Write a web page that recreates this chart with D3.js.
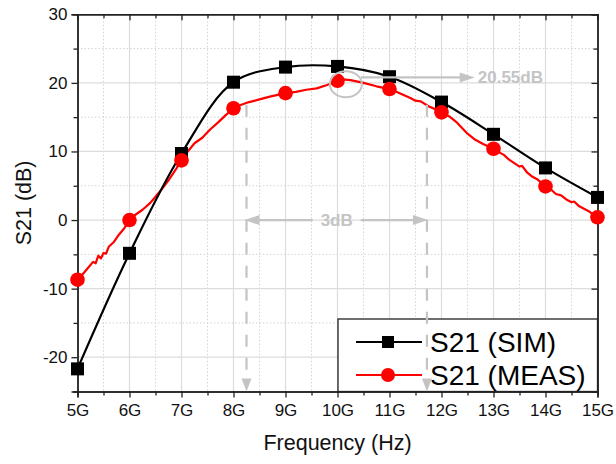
<!DOCTYPE html>
<html><head><meta charset="utf-8">
<script src="https://cdn.jsdelivr.net/npm/d3@7"></script>
<style>
html,body{margin:0;padding:0;background:#fff;}
svg{display:block;font-family:"Liberation Sans",Arial,sans-serif;}
</style></head>
<body><svg id="chart" width="616" height="464"></svg>
<script>
// ---- data ----
const simFreq = [5, 6, 7, 8, 9, 10, 11, 12, 13, 14, 15];           // GHz
const simS21  = [-21.7, -4.85, 9.7, 20.1, 22.3, 22.4, 20.9, 17.2, 12.5, 7.6, 3.3];
const measMarkFreq = [5, 6, 7, 8, 9, 10, 11, 12, 13, 14, 15];
const measMarkS21  = [-8.7, 0.0, 8.7, 16.3, 18.5, 20.3, 19.1, 15.7, 10.4, 4.9, 0.4];
const measFreq = [5.0,5.02,5.05,5.1,5.2,5.3,5.35,5.4,5.45,5.5,5.55,5.6,5.7,5.8,5.9,6.0,6.1,6.25,6.4,6.5,6.6,6.75,6.9,7.0,7.1,7.25,7.4,7.55,7.7,7.85,8.0,8.15,8.3,8.5,8.7,9.0,9.2,9.4,9.6,9.8,9.9,10.0,10.1,10.25,10.5,10.75,11.0,11.1,11.25,11.4,11.5,11.6,11.75,11.9,12.0,12.15,12.3,12.5,12.65,12.8,13.0,13.1,13.2,13.3,13.4,13.5,13.55,13.65,13.75,13.85,14.0,14.1,14.2,14.3,14.4,14.5,14.55,14.65,14.75,14.85,14.95,15.0];
const measS21  = [-8.8,-9.6,-8.2,-7.9,-7.0,-6.1,-6.3,-5.2,-5.6,-4.8,-4.9,-3.9,-3.2,-2.1,-1.2,0.0,0.7,1.5,2.5,3.4,4.3,5.8,7.5,8.7,9.8,11.2,12.0,13.2,14.2,15.3,16.3,16.8,17.2,17.6,18.0,18.5,18.7,19.0,19.2,19.7,20.0,20.4,20.5,20.4,20.0,19.5,19.1,18.8,18.3,17.8,17.4,17.3,16.6,16.1,15.7,15.1,14.2,12.6,11.7,11.1,10.4,9.9,9.5,8.8,8.3,7.8,7.9,6.9,6.3,5.9,4.9,4.5,3.8,3.6,3.0,2.6,2.7,2.0,1.6,1.2,0.6,0.4];
const xTicks = [5,6,7,8,9,10,11,12,13,14,15];
const xTickLabels = ["5G","6G","7G","8G","9G","10G","11G","12G","13G","14G","15G"];
const yTicks = [-20,-10,0,10,20,30];
const seriesNames = ["S21 (SIM)","S21 (MEAS)"];
// annotations (GHz, dB)
const bwLow = 8.25, bwHigh = 11.72, bwTop = 16.8, bwArrowDb = 0, bwLabel = "3dB";
const peakF = 10.16, peakDb = 19.8, peakArrowDb = 20.8, peakArrowEnd = 12.64, peakLabel = "20.55dB";

// ---- layout ----
const svg = d3.select("#chart");
const x = d3.scaleLinear().domain([5,15]).range([77.5,597.5]);
const y = d3.scaleLinear().domain([-25,30]).range([391.5,14.3]);
const [x0,x1] = x.range(), [yb,yt] = y.range();
const grey = "#c4c4c4";

// grid
const grid = svg.append("g");
d3.range(5.5,15,1).forEach(f=>grid.append("line").attr("x1",x(f)).attr("x2",x(f)).attr("y1",yt).attr("y2",yb)
  .attr("stroke","#d4d4d4").attr("stroke-width",1).attr("stroke-dasharray","1.5,2"));
d3.range(-25,30,10).forEach(v=>grid.append("line").attr("x1",x0).attr("x2",x1).attr("y1",y(v)).attr("y2",y(v))
  .attr("stroke","#d4d4d4").attr("stroke-width",1).attr("stroke-dasharray","1.5,2"));
xTicks.slice(1,-1).forEach(f=>grid.append("line").attr("x1",x(f)).attr("x2",x(f)).attr("y1",yt).attr("y2",yb)
  .attr("stroke","#dcdcdc").attr("stroke-width",1.2));
yTicks.slice(0,-1).forEach(v=>grid.append("line").attr("x1",x0).attr("x2",x1).attr("y1",y(v)).attr("y2",y(v))
  .attr("stroke","#dcdcdc").attr("stroke-width",1.2));

// axes
const fmtX = d => xTickLabels[xTicks.indexOf(d)];
const axB = svg.append("g").attr("transform",`translate(0,${yb})`)
  .call(d3.axisBottom(x).tickValues(xTicks).tickFormat(fmtX).tickSize(6).tickPadding(6));
const axBm = svg.append("g").attr("transform",`translate(0,${yb})`)
  .call(d3.axisBottom(x).tickValues(d3.range(5.5,15,1)).tickFormat("").tickSize(4));
const axT = svg.append("g").attr("transform",`translate(0,${yt})`)
  .call(d3.axisBottom(x).tickValues(xTicks).tickFormat("").tickSize(6));
const axTm = svg.append("g").attr("transform",`translate(0,${yt})`)
  .call(d3.axisBottom(x).tickValues(d3.range(5.5,15,1)).tickFormat("").tickSize(4));
const axL = svg.append("g").attr("transform",`translate(${x0},0)`)
  .call(d3.axisLeft(y).tickValues(yTicks).tickSize(6).tickPadding(4));
const axLm = svg.append("g").attr("transform",`translate(${x0},0)`)
  .call(d3.axisLeft(y).tickValues(d3.range(-25,30,10)).tickFormat("").tickSize(4));
const axR = svg.append("g").attr("transform",`translate(${x1},0)`)
  .call(d3.axisLeft(y).tickValues(yTicks).tickFormat("").tickSize(6));
const axRm = svg.append("g").attr("transform",`translate(${x1},0)`)
  .call(d3.axisLeft(y).tickValues(d3.range(-25,30,10)).tickFormat("").tickSize(4));
[axB,axBm,axT,axTm,axL,axLm,axR,axRm].forEach(g=>{
  g.select(".domain").attr("stroke","#222").attr("stroke-width",1.4);
  g.selectAll(".tick line").attr("stroke","#222").attr("stroke-width",1.3);
  g.selectAll(".tick text").attr("fill","#111").attr("font-size",17)
   .attr("font-family","'Liberation Sans',Arial,sans-serif");
});
axL.selectAll(".tick text").text(d=>d<0?"-"+Math.abs(d):d);

// axis titles
svg.append("text").attr("x",(x0+x1)/2).attr("y",450).attr("text-anchor","middle")
  .attr("font-size",21.5).attr("fill","#111").text("Frequency (Hz)");
svg.append("text").attr("transform",`translate(31,${(yt+yb)/2}) rotate(-90)`).attr("text-anchor","middle")
  .attr("font-size",21.5).attr("fill","#111").text("S21 (dB)");

// clip
svg.append("clipPath").attr("id","clip").append("rect").attr("x",x0).attr("y",yt).attr("width",x1-x0).attr("height",yb-yt);
const plot = svg.append("g").attr("clip-path","url(#clip)");

// series
const simData = simFreq.map((f,i)=>[f,simS21[i]]);
const measData = measFreq.map((f,i)=>[f,measS21[i]]);
const measMarks = measMarkFreq.map((f,i)=>[f,measMarkS21[i]]);
plot.append("path").datum(measData)
  .attr("d",d3.line().x(d=>x(d[0])).y(d=>y(d[1])).curve(d3.curveLinear))
  .attr("fill","none").attr("stroke","#ff0000").attr("stroke-width",2.2).attr("stroke-linejoin","round");
plot.append("path").datum(simData)
  .attr("d",d3.line().x(d=>x(d[0])).y(d=>y(d[1])).curve(d3.curveCatmullRom.alpha(0.5)))
  .attr("fill","none").attr("stroke","#000").attr("stroke-width",2.2);
const ms = 13;
svg.append("g").selectAll("rect").data(simData).join("rect")
  .attr("x",d=>x(d[0])-ms/2).attr("y",d=>y(d[1])-ms/2).attr("width",ms).attr("height",ms).attr("fill","#000");
svg.append("g").selectAll("circle").data(measMarks).join("circle")
  .attr("cx",d=>x(d[0])).attr("cy",d=>y(d[1])).attr("r",7.3).attr("fill","#ff0000");

// legend
const lg = svg.append("g");
lg.append("rect").attr("x",338).attr("y",319).attr("width",x1-338).attr("height",yb-319)
  .attr("fill","#fff").attr("stroke","#222").attr("stroke-width",1.3);
const rows = [{name:seriesNames[0],c:"#000",sym:"sq",cy:342},{name:seriesNames[1],c:"#ff0000",sym:"ci",cy:375}];
rows.forEach(r=>{
  lg.append("line").attr("x1",356).attr("x2",422).attr("y1",r.cy).attr("y2",r.cy).attr("stroke",r.c).attr("stroke-width",2.2);
  if(r.sym==="sq") lg.append("rect").attr("x",388-6).attr("y",r.cy-6).attr("width",12).attr("height",12).attr("fill",r.c);
  else lg.append("circle").attr("cx",388).attr("cy",r.cy).attr("r",7).attr("fill",r.c);
  lg.append("text").attr("x",430).attr("y",r.cy+10).attr("font-size",28).attr("fill","#000").text(r.name);
});

// annotations
const ann = svg.append("g");
[bwLow,bwHigh].forEach(f=>{
  ann.append("line").attr("x1",x(f)).attr("x2",x(f)).attr("y1",y(bwTop)).attr("y2",yb-12)
    .attr("stroke",grey).attr("stroke-width",2.2).attr("stroke-dasharray","12,11");
  ann.append("path").attr("d",`M${x(f)-5},${yb-13}L${x(f)+5},${yb-13}L${x(f)},${yb}Z`).attr("fill",grey);
});
const ay = y(bwArrowDb);
const tcx = (x(bwLow)+x(bwHigh))/2;
ann.append("line").attr("x1",x(bwLow)+10).attr("x2",tcx-24).attr("y1",ay).attr("y2",ay).attr("stroke",grey).attr("stroke-width",2.2);
ann.append("line").attr("x1",tcx+24).attr("x2",x(bwHigh)-10).attr("y1",ay).attr("y2",ay).attr("stroke",grey).attr("stroke-width",2.2);
ann.append("path").attr("d",`M${x(bwLow)-2},${ay}L${x(bwLow)+13},${ay-5}L${x(bwLow)+13},${ay+5}Z`).attr("fill",grey);
ann.append("path").attr("d",`M${x(bwHigh)+1},${ay}L${x(bwHigh)-14},${ay-5}L${x(bwHigh)-14},${ay+5}Z`).attr("fill",grey);
ann.append("text").attr("x",tcx).attr("y",ay+6).attr("text-anchor","middle").attr("font-size",17)
  .attr("font-weight","bold").attr("fill",grey).text(bwLabel);
ann.append("ellipse").attr("cx",x(peakF)).attr("cy",y(peakDb)).attr("rx",16).attr("ry",13)
  .attr("fill","none").attr("stroke",grey).attr("stroke-width",2);
const py = y(peakArrowDb);
ann.append("line").attr("x1",x(peakF)+15).attr("x2",x(peakArrowEnd)-12).attr("y1",py).attr("y2",py).attr("stroke",grey).attr("stroke-width",2.2);
ann.append("path").attr("d",`M${x(peakArrowEnd)},${py}L${x(peakArrowEnd)-15},${py-5}L${x(peakArrowEnd)-15},${py+5}Z`).attr("fill",grey);
ann.append("text").attr("x",x(peakArrowEnd)+3).attr("y",py+6).attr("font-size",17)
  .attr("font-weight","bold").attr("fill",grey).text(peakLabel);
</script></body></html>
